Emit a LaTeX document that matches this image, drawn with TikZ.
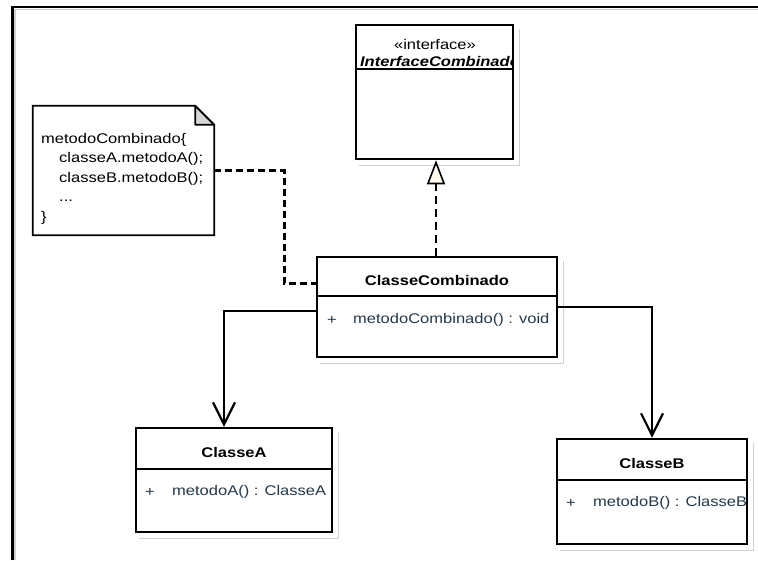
\documentclass[tikz,border=0pt]{standalone}
\usepackage{fontspec}
\setmainfont{Liberation Sans}[FakeStretch=1.18]
\usetikzlibrary{arrows.meta}
\definecolor{attr}{HTML}{22394A}
\definecolor{foldgray}{HTML}{D6D6D6}
\definecolor{shadecol}{HTML}{D0D0D0}
\definecolor{tipfill}{HTML}{FFF8EE}

% light offset outline below and right of a box
\newcommand\boxshade[1]{%
  \draw[shadeline] ([xshift=4pt,yshift=-5pt]#1.south west) -| ([xshift=5pt,yshift=-5pt]#1.north east);}

\begin{document}
\begin{tikzpicture}[x=1pt,y=-1pt,
  classbox/.style={draw=black, line width=2.5pt, fill=white, inner sep=0pt},
  shadeline/.style={draw=shadecol, line width=1pt},
  sepline/.style={draw=black, line width=2.3pt},
  nametext/.style={font=\fontsize{14}{16}\bfseries\selectfont, inner sep=0pt},
  attrtext/.style={font=\fontsize{14}{16}\selectfont, text=attr, inner sep=0pt, anchor=west},
  navlink/.style={draw=black, line width=2.7pt, -{Straight Barb[length=22pt,width=22pt,line width=2.2pt]}},
  realize/.style={draw=black, line width=2.4pt, dash pattern=on 8pt off 5pt,
    -{Triangle[open, length=24pt, width=18pt, line width=1.6pt, fill=tipfill]}},
  notelink/.style={draw=black, line width=3pt, dash pattern=on 7pt off 4pt},
]
\useasboundingbox (0,0) rectangle (758,560);

% outer frame
\draw[draw=shadecol, line width=1.2pt] (15,560) -- (15,9.5) -- (758,9.5);
\draw[line width=2.3pt] (12.5,560) -- (12.5,7) -- (758,7);

% interface
\node[classbox, minimum width=157pt, minimum height=134pt] (iface) at (434.5,92) {};
\boxshade{iface}
\draw[sepline] ([yshift=-45pt]iface.north west) -- ([yshift=-45pt]iface.north east);
\node[font=\fontsize{14}{16}\selectfont, inner sep=0pt] (stereo) at (435,44) {«interface»};
\begin{scope}
  \clip ([xshift=1.2pt]iface.north west) rectangle ([xshift=-1.2pt]iface.south east);
  \node[font=\fontsize{14}{16}\bfseries\itshape\selectfont, inner sep=0pt] (ifname) at (440,61) {InterfaceCombinado};
\end{scope}

% ClasseCombinado
\node[classbox, minimum width=240pt, minimum height=100pt] (cc) at (437,307) {};
\boxshade{cc}
\draw[sepline] ([yshift=-40pt]cc.north west) -- ([yshift=-40pt]cc.north east);
\node[nametext] (ccname) at (437,280) {ClasseCombinado};
\node[attrtext] (ccvis) at (327,320) {+};
\node[attrtext] (ccop) at (353,320) {metodoCombinado() : void};

% ClasseA
\node[classbox, minimum width=196pt, minimum height=104pt] (clsA) at (234,480) {};
\boxshade{clsA}
\draw[sepline] ([yshift=-42pt]clsA.north west) -- ([yshift=-42pt]clsA.north east);
\node[nametext] (aname) at (234,452) {ClasseA};
\node[attrtext] (avis) at (145,492) {+};
\node[attrtext] (aop) at (172,492) {metodoA() : ClasseA};

% ClasseB
\node[classbox, minimum width=190pt, minimum height=105pt] (clsB) at (652,491.5) {};
\boxshade{clsB}
\draw[sepline] ([yshift=-42pt]clsB.north west) -- ([yshift=-42pt]clsB.north east);
\node[nametext] (bname) at (652,463) {ClasseB};
\node[attrtext] (bvis) at (566,503) {+};
\node[attrtext] (bop) at (593,503) {metodoB() : ClasseB};

% note with folded corner
\node[inner sep=0pt, minimum width=181pt, minimum height=129pt] (note) at (123.5,170.5) {};
\draw[fill=white, line width=1.8pt]
  (note.south west) -- (note.north west) -- ([xshift=-19pt]note.north east)
  -- ([yshift=-19pt]note.north east) -- (note.south east) -- cycle;
\draw[fill=foldgray, line width=1.8pt, line join=round]
  ([xshift=-19pt]note.north east) -- ([xshift=-19pt,yshift=-19pt]note.north east)
  -- ([yshift=-19pt]note.north east) -- cycle;
% anchored on the baseline of the last line
\node[font=\fontsize{14}{19.5}\selectfont, align=left, anchor=base west, inner sep=0pt] (notetext) at (41,221)
  {metodoCombinado\{\\
   \hspace*{18pt}classeA.metodoA();\\
   \hspace*{18pt}classeB.metodoB();\\
   \hspace*{18pt}...\\
   \}};

% connectors
\coordinate (ccdash) at ([yshift=24pt]cc.west);
\draw[notelink] (note.east) -- ++(70,0) |- (ccdash);
\draw[realize] (cc.north -| 436,0) -- (iface.south -| 436,0);
\coordinate (ccA) at ([yshift=-4pt]cc.west);
\draw[navlink] (ccA) -| ([xshift=-10pt]clsA.north);
\draw[navlink] (cc.east) -| (clsB.north);
\end{tikzpicture}
\end{document}
